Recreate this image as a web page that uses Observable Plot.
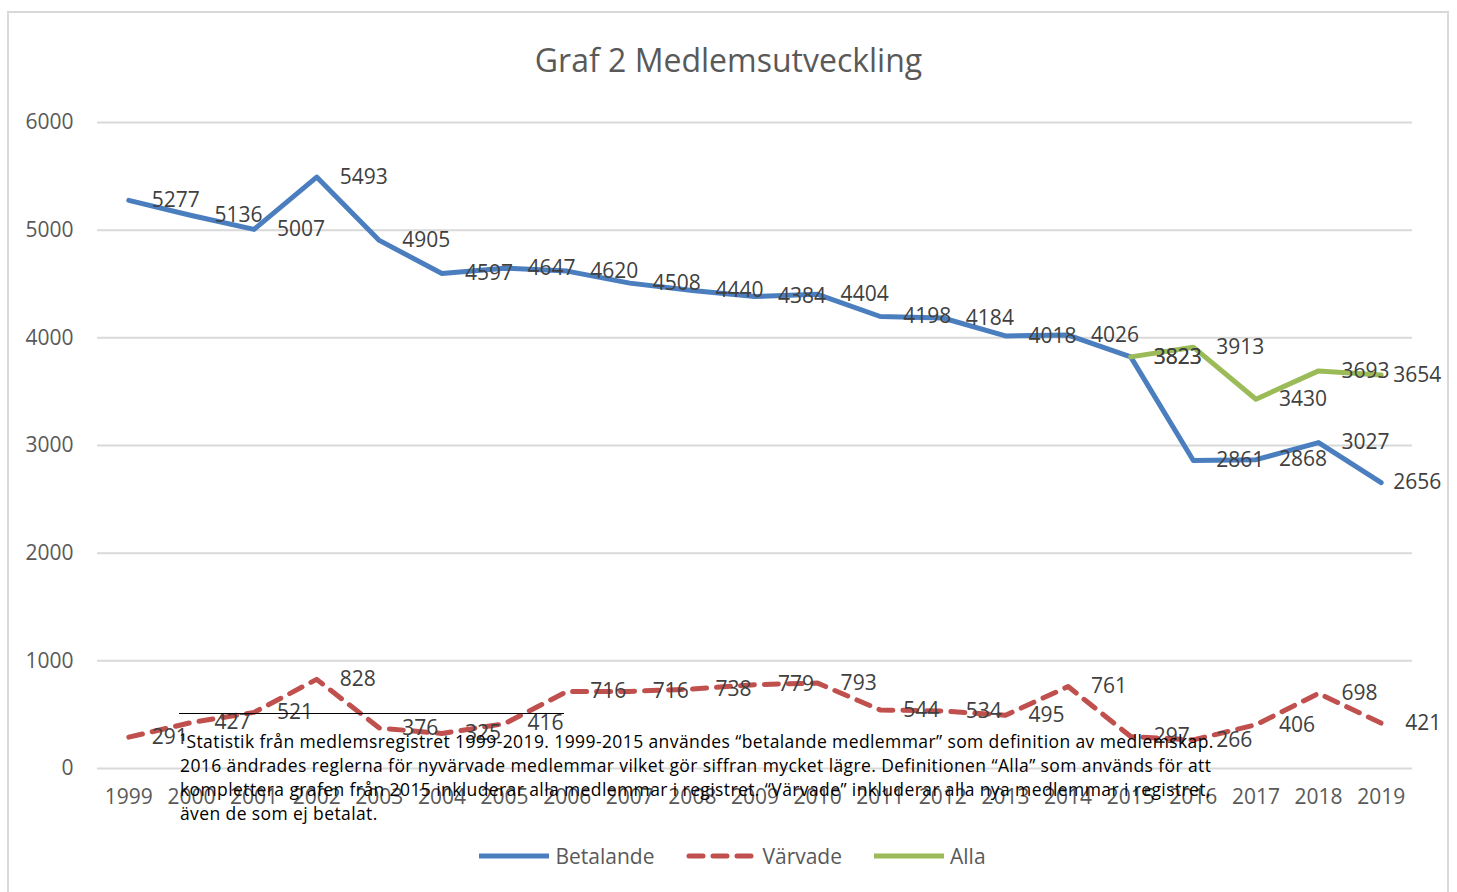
<!DOCTYPE html>
<html>
<head>
<meta charset="utf-8">
<script src="https://cdn.jsdelivr.net/npm/d3@7"></script>
<script src="https://cdn.jsdelivr.net/npm/@observablehq/plot@0.6"></script>
<style>
  html, body { margin: 0; padding: 0; background: #fff; }
  #wrap { position: relative; width: 1457px; height: 892px; overflow: hidden; font-family: "Open Sans", sans-serif; }
  #frame { position: absolute; left: 7px; top: 11px; width: 1442px; height: 890px; border: 2px solid #d9d9d9; box-sizing: border-box; }
  #chart { position: absolute; left: 0; top: 0; }
  #title { position: absolute; left: 0; width: 1457px; top: 38px; text-align: center; font-size: 32px; color: #595959; }
  #legend { position: absolute; top: 842px; left: 4px; width: 1457px; display: flex; justify-content: center; font-size: 21px; color: #595959; }
  #legend .item { display: flex; align-items: center; margin: 0 16px; }
  #legend svg { margin-right: 6px; }
  #note { position: absolute; left: 180px; top: 729px; font-size: 17.5px; letter-spacing: 0.4px; line-height: 24px; color: #000; white-space: nowrap; }
  #sep { position: absolute; left: 179px; top: 713px; width: 385px; height: 0; border-top: 1.5px solid #000; }
</style>
</head>
<body>
<div id="wrap">
  <div id="frame"></div>
  <div id="chart"></div>
  <div id="title">Graf 2 Medlemsutveckling</div>
  <div id="sep"></div>
  <div id="note"></div>
  <div id="legend"></div>
</div>
<script>
const years = [1999,2000,2001,2002,2003,2004,2005,2006,2007,2008,2009,2010,2011,2012,2013,2014,2015,2016,2017,2018,2019];
const betalande = [5277,5136,5007,5493,4905,4597,4647,4620,4508,4440,4384,4404,4198,4184,4018,4026,3823,2861,2868,3027,2656];
const varvade = [291,427,521,828,376,325,416,716,716,738,779,793,544,534,495,761,297,266,406,698,421];
const allaYears = [2015,2016,2017,2018,2019];
const alla = [3823,3913,3430,3693,3654];
const yTicks = [0,1000,2000,3000,4000,5000,6000];
const seriesNames = ["Betalande","Värvade","Alla"];
const colors = ["#4a7ebf","#c0504d","#9bbb59"];
const noteLines = [
  "¹Statistik från medlemsregistret 1999-2019. 1999-2015 användes “betalande medlemmar” som definition av medlemskap.",
  "2016 ändrades reglerna för nyvärvade medlemmar vilket gör siffran mycket lägre. Definitionen “Alla” som används för att",
  "komplettera grafen från 2015 inkluderar alla medlemmar i registret. “Värvade” inkluderar alla nya medlemmar i registret,",
  "även de som ej betalat."
];

const rows = [];
years.forEach((y,i) => rows.push({year: String(y), value: betalande[i], series: "Betalande"}));
years.forEach((y,i) => rows.push({year: String(y), value: varvade[i], series: "Värvade"}));
allaYears.forEach((y,i) => rows.push({year: String(y), value: alla[i], series: "Alla"}));
const last = String(years[years.length-1]);
const labelFill = "#404040";
const fontSize = 21;

const chart = Plot.plot({
  width: 1457,
  height: 892,
  marginLeft: 97,
  marginRight: 45,
  marginTop: 122,
  marginBottom: 124,
  style: {fontFamily: "Open Sans, sans-serif", background: "transparent"},
  x: {type: "point", domain: years.map(String), padding: 0.5, round: false, label: null},
  y: {domain: [0, 6000], label: null},
  marks: [
    Plot.gridY(yTicks, {stroke: "#d9d9d9", strokeOpacity: 1, strokeWidth: 2}),
    Plot.axisY(yTicks, {tickSize: 0, tickPadding: 24, fontSize: fontSize, fill: "#595959", label: null, tickFormat: d => String(d)}),
    Plot.axisX(years.map(String), {tickSize: 0, tickPadding: 21, fontSize: fontSize, fill: "#595959", label: null}),
    Plot.line(rows.filter(d => d.series === "Betalande"), {x: "year", y: "value", stroke: colors[0], strokeWidth: 5}),
    Plot.line(rows.filter(d => d.series === "Alla"), {x: "year", y: "value", stroke: colors[2], strokeWidth: 5}),
    Plot.line(rows.filter(d => d.series === "Värvade"), {x: "year", y: "value", stroke: colors[1], strokeWidth: 5, strokeDasharray: "14,10", strokeLinecap: "round"}),
    Plot.text(rows.filter(d => d.year !== last), {x: "year", y: "value", text: d => String(d.value), textAnchor: "start", dx: 23, fill: labelFill, fontSize: fontSize}),
    Plot.text(rows.filter(d => d.year === last), {x: "year", y: "value", text: d => String(d.value), textAnchor: "end", dx: 60, fill: labelFill, fontSize: fontSize})
  ]
});
document.getElementById("chart").appendChild(chart);

document.getElementById("note").innerHTML = noteLines.map(l => `<div>${l}</div>`).join("");

const legend = document.getElementById("legend");
seriesNames.forEach((name, i) => {
  const item = document.createElement("div");
  item.className = "item";
  const dash = i === 1 ? 'stroke-dasharray="14,10" stroke-linecap="round"' : '';
  item.innerHTML = `<svg width="70" height="10"><line x1="${i===1?3:0}" y1="5" x2="${i===1?67:70}" y2="5" stroke="${colors[i]}" stroke-width="5" ${dash}/></svg><span>${name}</span>`;
  legend.appendChild(item);
});
</script>
</body>
</html>
